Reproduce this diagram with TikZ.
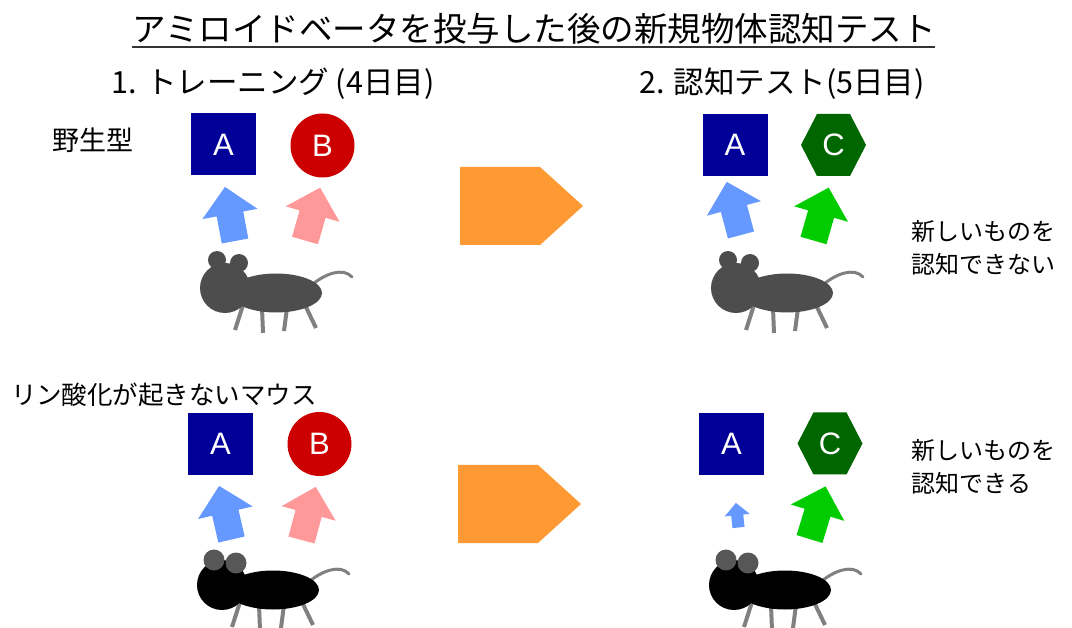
\documentclass[tikz,border=0pt]{standalone}
\usepackage{fontspec}
\setmainfont{Noto Sans CJK JP}
\newfontfamily\letterfont{Liberation Sans}

\definecolor{boxblue}{HTML}{000099}
\definecolor{ballred}{HTML}{CC0000}
\definecolor{hexgreen}{HTML}{006600}
\definecolor{arrowblue}{HTML}{6699FF}
\definecolor{arrowpink}{HTML}{FF9999}
\definecolor{arrowgreen}{HTML}{00CC00}
\definecolor{arroworange}{HTML}{FF9933}
\definecolor{mousegray}{HTML}{4D4D4D}
\definecolor{eargray}{HTML}{575757}
\definecolor{leggray}{HTML}{808080}

\tikzset{
    objA/.style={fill=boxblue, text=white, minimum width=65, minimum height=62, font=\letterfont\fontsize{31}{33}\selectfont},
    objB/.style={circle, fill=ballred, text=white, minimum size=64, inner sep=0pt, font=\letterfont\fontsize{31}{33}\selectfont},
    objC/.style={text=white, font=\letterfont\fontsize{31}{33}\selectfont},
}

\begin{document}
\begin{tikzpicture}[x=1pt, y=-1pt]
            \useasboundingbox (0,0) rectangle (1072,628);

            % headings
            \node (title) at (534,29) {\fontsize{33.5}{36}\selectfont アミロイドベータを投与した後の新規物体認知テスト};
            \draw [line width=2.5pt, draw=black!80] (132,47) -- (935,47);
            \node (day4) at (273,84) {\fontsize{30.5}{32}\selectfont 1. トレーニング (4日目)};
            \node (day5) at (782,84) {\fontsize{30.5}{32}\selectfont 2. 認知テスト(5日目)};
            \node (wild) at (93,140) {\fontsize{27}{30}\selectfont 野生型};
            \node (mutant) at (164,395) {\fontsize{25.5}{28}\selectfont リン酸化が起きないマウス};
            \node [anchor=west, align=left, font=\fontsize{24}{33}\selectfont] (noNew) at (908,248) {新しいものを\\認知できない};
            \node [anchor=west, align=left, font=\fontsize{24}{33}\selectfont] (yesNew) at (908,467) {新しいものを\\認知できる};

            % objects
            \node [objA] (a1) at (223.5,144.5) {A};
            \node [objB] (b1) at (322.5,145.5) {B};
            \node [objA] (a2) at (735,145) {A};
            \node [objA] (a3) at (220.5,444) {A};
            \node [objB] (b3) at (319.5,444) {B};
            \node [objA] (a4) at (731.5,444) {A};
            \foreach \cx/\cy/\nm in {833.5/145/c2, 830/443.5/c4}
            {
                \fill [hexgreen] (\cx-32.5,\cy) -- (\cx-16.5,\cy-31) -- (\cx+16.5,\cy-31) -- (\cx+32.5,\cy) -- (\cx+16.5,\cy+31) -- (\cx-16.5,\cy+31) -- cycle;
                \node [objC] (\nm) at (\cx,\cy) {C};
            }

            % day 4 -> day 5
            \foreach \px/\py in {0/0, -2/298}
            {
                \fill [arroworange] (460+\px,167+\py) -- (540+\px,167+\py) -- (583+\px,206+\py) -- (540+\px,245+\py) -- (460+\px,245+\py) -- cycle;
            }

            % sniffing arrows
            \foreach \ax/\ay/\ang/\sc/\col in {235/241/10.5/1/arrowblue, 305/240.5/-16/1/arrowpink, 741/235/15/1/arrowblue, 813.5/240.5/-16/1/arrowgreen, 231.5/539.5/13/1/arrowblue, 301.5/540/-15/1/arrowpink, 738.5/527.5/6/0.45/arrowblue, 809.5/539/-17/1/arrowgreen}
            {
                \fill [\col, shift={(\ax,\ay)}, rotate=\ang, scale=\sc] (-13.5,0) -- (-13.5,-27.5) -- (-28,-27.5) -- (0,-55) -- (28,-27.5) -- (13.5,-27.5) -- (13.5,0) -- cycle;
            }

            % mice
            \foreach \mx/\my/\fur/\earcol/\er/\ey in {0/0/mousegray/mousegray/9/0, 511/0/mousegray/mousegray/9/0, -3/297/black/eargray/10.5/3, 509/297/black/eargray/10.5/3}
            {
                \begin{scope}[shift={(\mx,\my)}]
                    \draw [line width=4pt, draw=leggray] (243,305) -- (235,330);
                    \draw [line width=4pt, draw=leggray] (262,308) -- (263,333);
                    \draw [line width=4pt, draw=leggray] (287,308) -- (284,331);
                    \draw [line width=4pt, draw=leggray] (305,305) -- (316,328);
                    \draw [line width=3pt, draw=leggray, line cap=round] (313,284) .. controls (325,274) and (343,267) .. (352,277);
                    \fill [\fur] (225,288) circle [radius=25];
                    \fill [\fur] (276,293) ellipse [x radius=46, y radius=19.5];
                    \fill [\earcol] (217,260+\ey) circle [radius=\er];
                    \fill [\earcol] (239,263+\ey) circle [radius=\er];
                \end{scope}
            }
\end{tikzpicture}
\end{document}
